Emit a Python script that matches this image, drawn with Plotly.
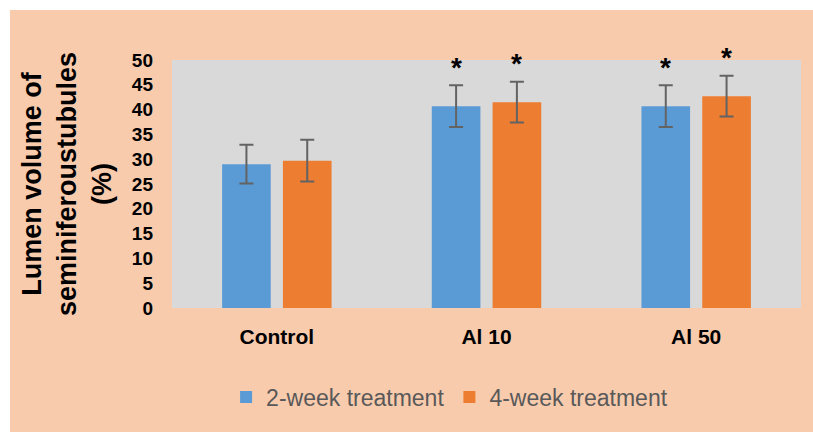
import plotly.graph_objects as go

# Lumen volume of seminiferous tubules (%), mean ± SD per group
groups = ["Control", "Al 10", "Al 50"]
week2_mean = [29.0, 40.7, 40.7]
week2_sd = [3.9, 4.2, 4.2]
week4_mean = [29.7, 41.5, 42.7]
week4_sd = [4.2, 4.1, 4.1]
# significance marks (vs. control) for each bar
week2_sig = ["", "*", "*"]
week4_sig = ["", "*", "*"]
y_ticks = list(range(0, 51, 5))

BLUE = "#5B9BD5"
ORANGE = "#ED7D31"
PEACH = "#F8CBAD"
PLOT_GRAY = "#D9D9D9"
ERR = "#636363"
FONT = "Liberation Sans, Arial, sans-serif"

BARGAP = 0.42
GROUPGAP = 0.2
slot = (1 - BARGAP) / 2  # category width share of each bar slot

fig = go.Figure()
for name, mean, sd, color in [
    ("2-week treatment", week2_mean, week2_sd, BLUE),
    ("4-week treatment", week4_mean, week4_sd, ORANGE),
]:
    fig.add_trace(go.Bar(
        x=groups, y=mean, name=name,
        marker=dict(color=color, line=dict(width=0)),
        error_y=dict(type="data", array=sd, visible=True,
                     color=ERR, thickness=2, width=7),
    ))

# asterisks above the error bars
annotations = []
for sig, mean, sd, shift in [(week2_sig, week2_mean, week2_sd, -slot / 2),
                              (week4_sig, week4_mean, week4_sd, slot / 2)]:
    for i, s in enumerate(sig):
        if s:
            annotations.append(dict(
                x=i + shift, y=mean[i] + sd[i], xref="x", yref="y",
                text="<b>" + s + "</b>", showarrow=False,
                yanchor="middle", yshift=18,
                font=dict(family=FONT, size=28, color="#000000"),
            ))

fig.update_layout(
    width=813, height=432,
    margin=dict(l=172, r=12, t=60, b=124),
    paper_bgcolor="#FFFFFF",
    plot_bgcolor=PLOT_GRAY,
    barmode="group", bargap=BARGAP, bargroupgap=GROUPGAP,
    showlegend=True,
    legend=dict(orientation="h", x=0.086, xanchor="left",
                y=-0.359, yanchor="middle",
                bgcolor="rgba(0,0,0,0)",
                font=dict(family=FONT, size=23, color="#595959")),
    annotations=annotations,
    shapes=[
        dict(type="rect", xref="paper", yref="paper",
             x0=-0.2576, x1=1.03, y0=-0.55, y1=1.2016,
             fillcolor=PEACH, line=dict(width=0), layer="below"),
        dict(type="rect", xref="paper", yref="paper",
             x0=0, x1=1, y0=0, y1=1,
             fillcolor=PLOT_GRAY, line=dict(width=0), layer="below"),
    ],
    xaxis=dict(showline=False, showgrid=False, zeroline=False,
               ticks="", ticklabelstandoff=14,
               tickfont=dict(family=FONT, size=21, color="#000000"),
               tickprefix="<b>", ticksuffix="</b>"),
    yaxis=dict(range=[0, 50], tickvals=y_ticks,
               ticktext=["<b>%d</b>" % v for v in y_ticks],
               showline=False, showgrid=False, zeroline=False,
               ticks="", ticklabelstandoff=18,
               tickfont=dict(family=FONT, size=19, color="#000000"),
               title=dict(text="<b>Lumen volume of<br>seminiferoustubules<br>(%)</b>",
                          font=dict(family=FONT, size=27, color="#000000"),
                          standoff=12)),
)

fig.write_html("out.html")
